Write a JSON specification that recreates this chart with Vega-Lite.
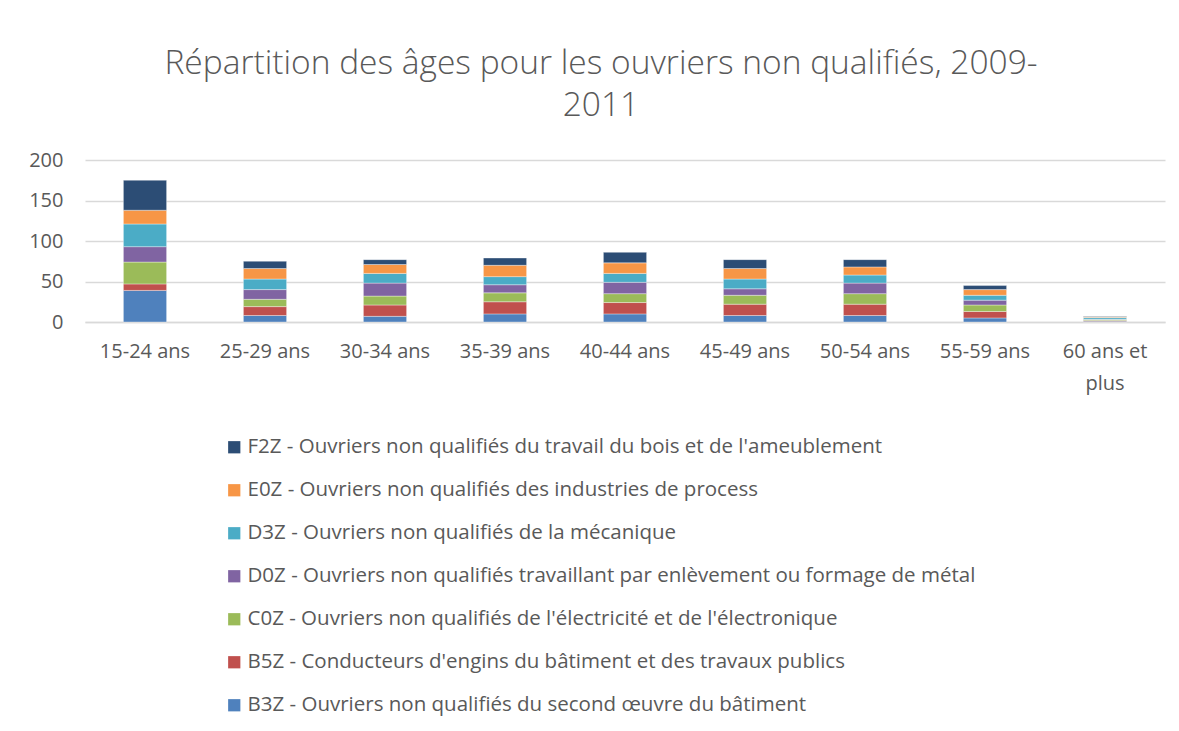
{
  "$schema": "https://vega.github.io/schema/vega-lite/v6.json",
  "width": 1080,
  "height": 162,
  "autosize": {"type": "none"},
  "padding": {"left": 85, "top": 160, "right": 14, "bottom": 409},
  "background": "white",
  "title": {
    "text": ["Répartition des âges pour les ouvriers non qualifiés, 2009-", "2011"],
    "font": "Open Sans",
    "fontWeight": 300,
    "fontSize": 33.5,
    "color": "#595959",
    "lineHeight": 42,
    "anchor": "middle",
    "dx": -24,
    "offset": 27
  },
  "datasets": {
    "d": [
      {"age": "15-24 ans", "s": "B3Z", "v": 39}, {"age": "15-24 ans", "s": "B5Z", "v": 8}, {"age": "15-24 ans", "s": "C0Z", "v": 27}, {"age": "15-24 ans", "s": "D0Z", "v": 19}, {"age": "15-24 ans", "s": "D3Z", "v": 28}, {"age": "15-24 ans", "s": "E0Z", "v": 17}, {"age": "15-24 ans", "s": "F2Z", "v": 37},
      {"age": "25-29 ans", "s": "B3Z", "v": 8}, {"age": "25-29 ans", "s": "B5Z", "v": 11}, {"age": "25-29 ans", "s": "C0Z", "v": 9}, {"age": "25-29 ans", "s": "D0Z", "v": 12}, {"age": "25-29 ans", "s": "D3Z", "v": 13}, {"age": "25-29 ans", "s": "E0Z", "v": 13}, {"age": "25-29 ans", "s": "F2Z", "v": 9},
      {"age": "30-34 ans", "s": "B3Z", "v": 7}, {"age": "30-34 ans", "s": "B5Z", "v": 14}, {"age": "30-34 ans", "s": "C0Z", "v": 11}, {"age": "30-34 ans", "s": "D0Z", "v": 16}, {"age": "30-34 ans", "s": "D3Z", "v": 12}, {"age": "30-34 ans", "s": "E0Z", "v": 11}, {"age": "30-34 ans", "s": "F2Z", "v": 6},
      {"age": "35-39 ans", "s": "B3Z", "v": 10}, {"age": "35-39 ans", "s": "B5Z", "v": 15}, {"age": "35-39 ans", "s": "C0Z", "v": 11}, {"age": "35-39 ans", "s": "D0Z", "v": 10}, {"age": "35-39 ans", "s": "D3Z", "v": 10}, {"age": "35-39 ans", "s": "E0Z", "v": 14}, {"age": "35-39 ans", "s": "F2Z", "v": 9},
      {"age": "40-44 ans", "s": "B3Z", "v": 10}, {"age": "40-44 ans", "s": "B5Z", "v": 14}, {"age": "40-44 ans", "s": "C0Z", "v": 11}, {"age": "40-44 ans", "s": "D0Z", "v": 14}, {"age": "40-44 ans", "s": "D3Z", "v": 11}, {"age": "40-44 ans", "s": "E0Z", "v": 13}, {"age": "40-44 ans", "s": "F2Z", "v": 13},
      {"age": "45-49 ans", "s": "B3Z", "v": 8}, {"age": "45-49 ans", "s": "B5Z", "v": 14}, {"age": "45-49 ans", "s": "C0Z", "v": 11}, {"age": "45-49 ans", "s": "D0Z", "v": 8}, {"age": "45-49 ans", "s": "D3Z", "v": 12}, {"age": "45-49 ans", "s": "E0Z", "v": 13}, {"age": "45-49 ans", "s": "F2Z", "v": 11},
      {"age": "50-54 ans", "s": "B3Z", "v": 8}, {"age": "50-54 ans", "s": "B5Z", "v": 14}, {"age": "50-54 ans", "s": "C0Z", "v": 13}, {"age": "50-54 ans", "s": "D0Z", "v": 13}, {"age": "50-54 ans", "s": "D3Z", "v": 10}, {"age": "50-54 ans", "s": "E0Z", "v": 10}, {"age": "50-54 ans", "s": "F2Z", "v": 9},
      {"age": "55-59 ans", "s": "B3Z", "v": 5}, {"age": "55-59 ans", "s": "B5Z", "v": 8}, {"age": "55-59 ans", "s": "C0Z", "v": 8}, {"age": "55-59 ans", "s": "D0Z", "v": 6}, {"age": "55-59 ans", "s": "D3Z", "v": 6}, {"age": "55-59 ans", "s": "E0Z", "v": 7}, {"age": "55-59 ans", "s": "F2Z", "v": 5},
      {"age": "60 ans et plus", "s": "B3Z", "v": 1}, {"age": "60 ans et plus", "s": "B5Z", "v": 1}, {"age": "60 ans et plus", "s": "C0Z", "v": 1}, {"age": "60 ans et plus", "s": "D0Z", "v": 0.5}, {"age": "60 ans et plus", "s": "D3Z", "v": 2}, {"age": "60 ans et plus", "s": "E0Z", "v": 1}, {"age": "60 ans et plus", "s": "F2Z", "v": 0.5}
    ],
    "names": [
      {"s": "B3Z", "label": "B3Z - Ouvriers non qualifiés du second œuvre du bâtiment"},
      {"s": "B5Z", "label": "B5Z - Conducteurs d'engins du bâtiment et des travaux publics"},
      {"s": "C0Z", "label": "C0Z - Ouvriers non qualifiés de l'électricité et de l'électronique"},
      {"s": "D0Z", "label": "D0Z - Ouvriers non qualifiés travaillant par enlèvement ou formage de métal"},
      {"s": "D3Z", "label": "D3Z - Ouvriers non qualifiés de la mécanique"},
      {"s": "E0Z", "label": "E0Z - Ouvriers non qualifiés des industries de process"},
      {"s": "F2Z", "label": "F2Z - Ouvriers non qualifiés du travail du bois et de l'ameublement"}
    ]
  },
  "data": {"name": "d"},
  "transform": [
    {"lookup": "s", "from": {"data": {"name": "names"}, "key": "s", "fields": ["label"]}}
  ],
  "mark": {"type": "bar", "stroke": "#ffffff", "strokeWidth": 0.6, "strokeOpacity": 0.6},
  "encoding": {
    "x": {
      "field": "age", "type": "nominal", "sort": null,
      "scale": {"paddingInner": 0.64, "paddingOuter": 0.32},
      "axis": {
        "title": null, "labelAngle": 0, "ticks": false, "domainColor": "#D9D9D9", "domainWidth": 1.5,
        "labelFont": "Open Sans", "labelFontSize": 20, "labelColor": "#595959", "labelPadding": 19,
        "labelLineHeight": 32, "labelBaseline": "top",
        "labelExpr": "datum.label == '60 ans et plus' ? ['60 ans et', 'plus'] : datum.label"
      }
    },
    "y": {
      "field": "v", "type": "quantitative", "stack": "zero",
      "scale": {"domain": [0, 200]},
      "axis": {
        "title": null, "values": [0, 50, 100, 150, 200], "domain": false, "ticks": false,
        "gridColor": "#D9D9D9", "gridWidth": 1.5,
        "labelFont": "Open Sans", "labelFontSize": 20, "labelColor": "#595959", "labelPadding": 22
      }
    },
    "color": {
      "field": "label", "type": "nominal",
      "scale": {
        "domain": [
          "F2Z - Ouvriers non qualifiés du travail du bois et de l'ameublement",
          "E0Z - Ouvriers non qualifiés des industries de process",
          "D3Z - Ouvriers non qualifiés de la mécanique",
          "D0Z - Ouvriers non qualifiés travaillant par enlèvement ou formage de métal",
          "C0Z - Ouvriers non qualifiés de l'électricité et de l'électronique",
          "B5Z - Conducteurs d'engins du bâtiment et des travaux publics",
          "B3Z - Ouvriers non qualifiés du second œuvre du bâtiment"
        ],
        "range": ["#2C4D75", "#F79646", "#4BACC6", "#8064A2", "#9BBB59", "#C0504D", "#4F81BD"]
      },
      "legend": {
        "title": null, "orient": "none", "legendX": 139, "legendY": 277,
        "direction": "vertical", "symbolType": "square", "symbolSize": 150, "symbolStrokeWidth": 0,
        "labelFont": "Open Sans", "labelFontSize": 20.5, "labelColor": "#595959", "labelLimit": 950,
        "labelOffset": 3, "rowPadding": 22
      }
    },
    "order": {"field": "s", "sort": "ascending"}
  },
  "config": {"view": {"stroke": null}}
}
